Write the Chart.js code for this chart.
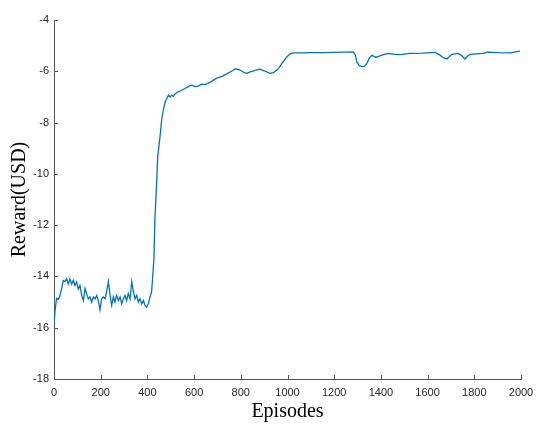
<!DOCTYPE html>
<html>
<head>
<meta charset="utf-8">
<script src="https://cdn.jsdelivr.net/npm/chart.js@4/dist/chart.umd.min.js"></script>
<style>
  body { margin: 0; background: #fff; }
  canvas { display: block; }
</style>
</head>
<body>
<canvas id="grafico" width="550" height="427"></canvas>
<script>
// Eixo X: episódios
var episodes = [
    0, 5, 11, 17, 24, 33, 40, 47, 54, 61, 68, 76, 83, 90, 97, 104, 111, 119, 126, 133,
    140, 147, 154, 161, 169, 176, 183, 190, 197, 204, 211, 219, 225, 233, 240, 247, 254, 261, 268, 276,
    283, 290, 297, 304, 311, 318, 326, 333, 340, 347, 354, 361, 368, 376, 383, 390, 397, 404, 411, 418,
    422, 428, 432, 440, 444, 454, 461, 468, 476, 483, 490, 497, 504, 511, 518, 532, 547, 561, 575, 590,
    604, 618, 632, 647, 670, 697, 720, 740, 760, 775, 790, 800, 815, 826, 840, 850, 865, 882, 900, 925,
    940, 955, 965, 975, 988, 998, 1010, 1024, 1060, 1100, 1150, 1200, 1250, 1281, 1290, 1297, 1308, 1319, 1330, 1340,
    1350, 1362, 1370, 1379, 1400, 1431, 1460, 1482, 1525, 1580, 1632, 1653, 1668, 1683, 1694, 1704, 1730, 1745, 1760, 1772,
    1782, 1837, 1859, 1900, 1953, 1996
];

// Eixo Y: recompensa (USD)
var reward = [
    -15.85, -15.3, -14.86, -14.9, -14.8, -14.47, -14.16, -14.2, -14.09, -14.3, -14.1, -14.3, -14.15, -14.35, -14.22, -14.5, -14.35, -14.74, -14.94, -14.47,
    -14.68, -14.87, -14.8, -15.0, -14.8, -14.87, -14.74, -14.94, -15.3, -14.87, -14.8, -14.87, -14.6, -14.2, -14.74, -15.13, -14.8, -15.0, -14.74, -14.94,
    -14.8, -15.07, -14.87, -14.74, -14.94, -14.67, -14.87, -14.2, -14.6, -14.87, -14.74, -15.0, -14.87, -15.07, -14.94, -15.13, -15.2, -15.07, -14.8, -14.6,
    -14.1, -13.3, -11.8, -10.25, -9.34, -8.56, -7.9, -7.52, -7.2, -7.06, -6.93, -7.0, -6.93, -6.98, -6.88, -6.8, -6.74, -6.67, -6.6, -6.54,
    -6.6, -6.58, -6.5, -6.52, -6.42, -6.27, -6.2, -6.1, -6.0, -5.91, -5.93, -5.97, -6.05, -6.08, -6.02, -6.0, -5.95, -5.92, -5.98, -6.08,
    -6.05, -5.95, -5.85, -5.7, -5.55, -5.43, -5.33, -5.28, -5.28, -5.27, -5.27, -5.26, -5.25, -5.24, -5.35, -5.63, -5.78, -5.82, -5.8, -5.69,
    -5.5, -5.37, -5.42, -5.46, -5.38, -5.3, -5.34, -5.35, -5.3, -5.29, -5.26, -5.37, -5.47, -5.52, -5.42, -5.34, -5.3, -5.38, -5.52, -5.4,
    -5.34, -5.3, -5.25, -5.27, -5.28, -5.21
];

// Marcas para dentro, estilo MATLAB
var marcasInternas = {
    id: 'marcasInternas',
    afterDatasetsDraw: function (chart) {
        var ctx = chart.ctx, area = chart.chartArea, sx = chart.scales.x, sy = chart.scales.y;
        ctx.save();
        ctx.strokeStyle = '#555555';
        ctx.lineWidth = 1;
        sx.ticks.forEach(function (t) {
            var px = Math.round(sx.getPixelForValue(t.value)) + 0.5;
            ctx.beginPath(); ctx.moveTo(px, area.bottom); ctx.lineTo(px, area.bottom - 4); ctx.stroke();
        });
        sy.ticks.forEach(function (t) {
            var py = Math.round(sy.getPixelForValue(t.value)) + 0.5;
            ctx.beginPath(); ctx.moveTo(area.left, py); ctx.lineTo(area.left + 4, py); ctx.stroke();
        });
        ctx.restore();
    }
};

new Chart(document.getElementById('grafico').getContext('2d'), {
    type: 'line',
    data: {
        datasets: [{
            label: 'Reward',
            data: episodes.map(function (e, i) { return { x: e, y: reward[i] }; }),
            borderColor: '#0072BD',
            borderWidth: 1.3,
            pointRadius: 0,
            tension: 0,
            fill: false
        }]
    },
    options: {
        responsive: false,
        animation: false,
        layout: { padding: { top: 20, right: 29, left: 0, bottom: 0 } },
        plugins: {
            legend: { display: false },
            tooltip: { enabled: false }
        },
        scales: {
            x: {
                type: 'linear',
                min: 0,
                max: 2000,
                afterFit: function (s) { s.height = 48; },
                grid: { display: false, drawTicks: false },
                border: { display: true, color: '#555555', width: 1 },
                ticks: {
                    stepSize: 200,
                    maxRotation: 0,
                    autoSkip: false,
                    padding: 7,
                    color: '#262626',
                    font: { family: 'Liberation Sans', size: 11 },
                    callback: function (v) { return String(v); } // sem separador de milhar
                },
                title: {
                    display: true,
                    text: 'Episodes',
                    color: '#000',
                    padding: { top: 0, bottom: 3 },
                    font: { family: 'Liberation Serif', size: 20 }
                }
            },
            y: {
                min: -18,
                max: -4,
                afterFit: function (s) { s.width = 54; },
                grid: { display: false, drawTicks: false },
                border: { display: true, color: '#555555', width: 1 },
                ticks: {
                    stepSize: 2,
                    autoSkip: false,
                    padding: 5,
                    color: '#262626',
                    font: { family: 'Liberation Sans', size: 11 },
                    callback: function (v) { return String(v); }
                },
                title: {
                    display: true,
                    text: 'Reward(USD)',
                    color: '#000',
                    padding: { top: 8, bottom: 0 },
                    font: { family: 'Liberation Serif', size: 20 }
                }
            }
        }
    },
    plugins: [marcasInternas]
});
</script>
</body>
</html>
